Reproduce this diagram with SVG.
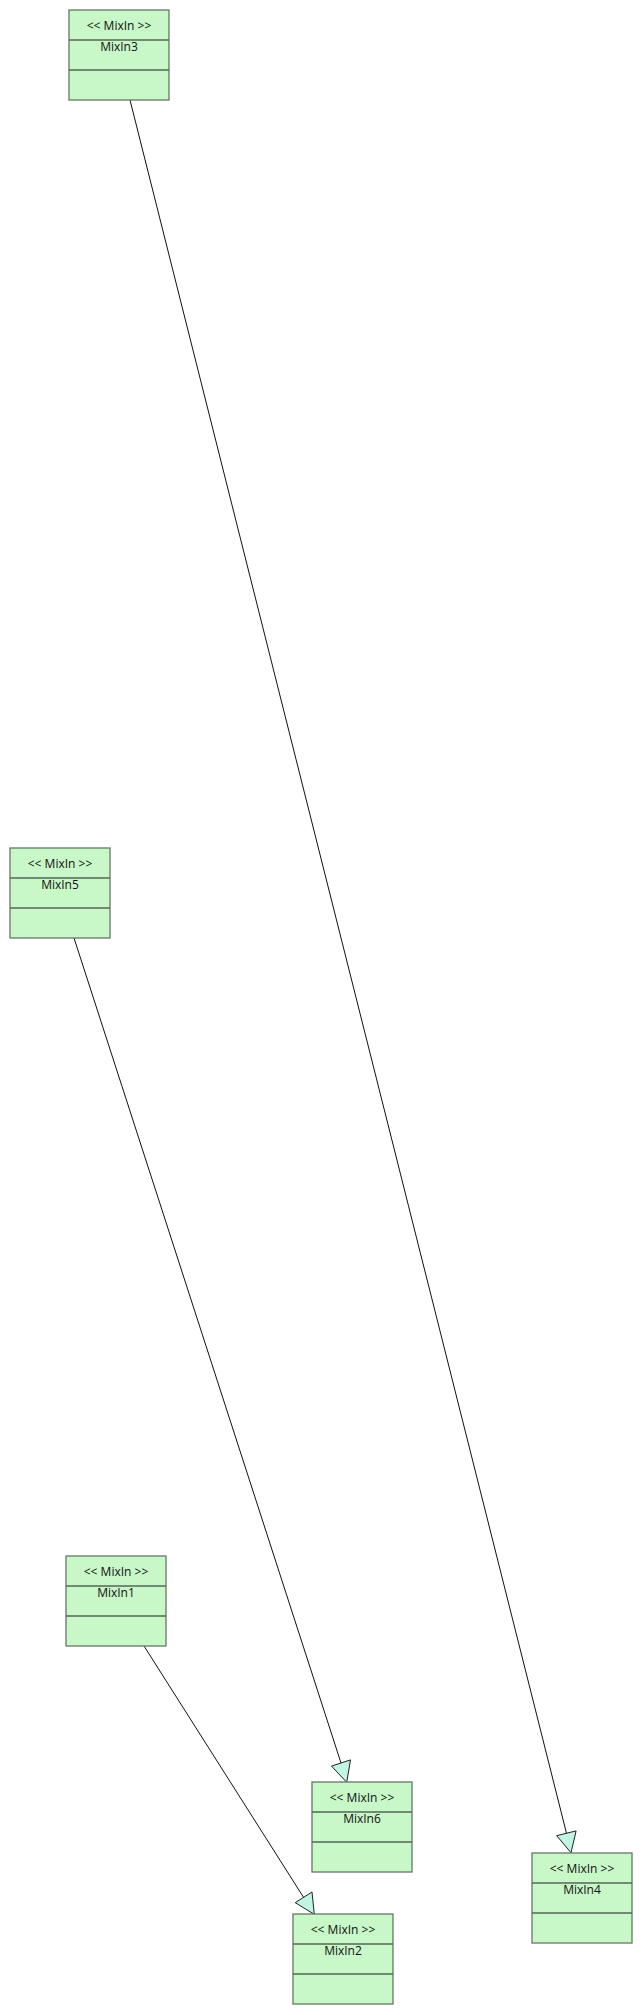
<svg xmlns="http://www.w3.org/2000/svg" width="642" height="2015" viewBox="0 0 642 2015">
<style>
.box{fill:#c8f7c8;stroke:#667766;stroke-width:1.3}
.div{stroke:#556655;stroke-width:1.3}
.t{font-family:"Open Sans","Liberation Sans",sans-serif;font-size:12px;fill:#111;text-anchor:middle}
.edge{stroke:#111;stroke-width:1;fill:none}
.head{fill:#c0f5e4;stroke:#222;stroke-width:1}
</style>
<rect width="642" height="2015" fill="#fff"/>
<g id="connectors">
<line class="edge" x1="130" y1="100" x2="566.5" y2="1833.3"/>
<polygon class="head" points="571,1852.7 556.7,1835.7 576.1,1830.9"/>
<line class="edge" x1="74" y1="938" x2="341" y2="1763"/>
<polygon class="head" points="346.7,1782.3 331.5,1766.1 350.5,1759.9"/>
<line class="edge" x1="144" y1="1646" x2="303.6" y2="1897.4"/>
<polygon class="head" points="314.3,1914.3 295.2,1902.7 312.0,1892.0"/>
</g>
<g id="MixIn3">
<rect class="box" x="69" y="10" width="100" height="90"/>
<line class="div" x1="69" y1="40" x2="169" y2="40"/>
<line class="div" x1="69" y1="70" x2="169" y2="70"/>
<text class="t" x="119" y="30">&lt;&lt; MixIn &gt;&gt;</text>
<text class="t" x="119" y="51">MixIn3</text>
</g>
<g id="MixIn5">
<rect class="box" x="10" y="848" width="100" height="90"/>
<line class="div" x1="10" y1="878" x2="110" y2="878"/>
<line class="div" x1="10" y1="908" x2="110" y2="908"/>
<text class="t" x="60" y="868">&lt;&lt; MixIn &gt;&gt;</text>
<text class="t" x="60" y="889">MixIn5</text>
</g>
<g id="MixIn1">
<rect class="box" x="66" y="1556" width="100" height="90"/>
<line class="div" x1="66" y1="1586" x2="166" y2="1586"/>
<line class="div" x1="66" y1="1616" x2="166" y2="1616"/>
<text class="t" x="116" y="1576">&lt;&lt; MixIn &gt;&gt;</text>
<text class="t" x="116" y="1597">MixIn1</text>
</g>
<g id="MixIn6">
<rect class="box" x="312" y="1782" width="100" height="90"/>
<line class="div" x1="312" y1="1812" x2="412" y2="1812"/>
<line class="div" x1="312" y1="1842" x2="412" y2="1842"/>
<text class="t" x="362" y="1802">&lt;&lt; MixIn &gt;&gt;</text>
<text class="t" x="362" y="1823">MixIn6</text>
</g>
<g id="MixIn4">
<rect class="box" x="532" y="1853" width="100" height="90"/>
<line class="div" x1="532" y1="1883" x2="632" y2="1883"/>
<line class="div" x1="532" y1="1913" x2="632" y2="1913"/>
<text class="t" x="582" y="1873">&lt;&lt; MixIn &gt;&gt;</text>
<text class="t" x="582" y="1894">MixIn4</text>
</g>
<g id="MixIn2">
<rect class="box" x="293" y="1914" width="100" height="90"/>
<line class="div" x1="293" y1="1944" x2="393" y2="1944"/>
<line class="div" x1="293" y1="1974" x2="393" y2="1974"/>
<text class="t" x="343" y="1934">&lt;&lt; MixIn &gt;&gt;</text>
<text class="t" x="343" y="1955">MixIn2</text>
</g>
</svg>
